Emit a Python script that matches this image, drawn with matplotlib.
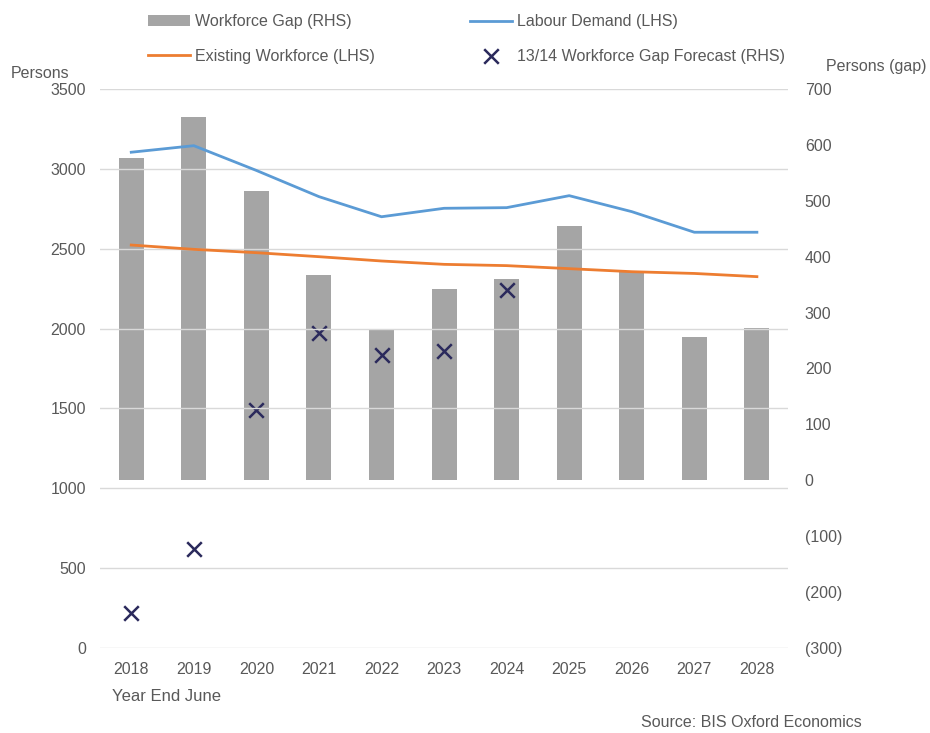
import numpy as np
import matplotlib.pyplot as plt
from matplotlib.ticker import FuncFormatter

years = ["2018", "2019", "2020", "2021", "2022", "2023", "2024", "2025", "2026", "2027", "2028"]
workforce_gap = [577, 649, 517, 367, 271, 342, 360, 454, 373, 257, 272]
labour_demand = [3104, 3145, 2990, 2826, 2700, 2753, 2757, 2832, 2732, 2603, 2603]
existing_workforce = [2523, 2496, 2475, 2450, 2423, 2402, 2394, 2375, 2356, 2345, 2325]
forecast_years = ["2018", "2019", "2020", "2021", "2022", "2023", "2024"]
forecast_gap = [-237, -123, 126, 263, 224, 232, 340]

plt.rcParams['font.family'] = ['Liberation Sans', 'DejaVu Sans']
text_col = '#595959'

x = np.arange(len(years))
fx = np.array([years.index(y) for y in forecast_years])

fig = plt.figure(figsize=(9.3, 7.33), dpi=100)
ax = fig.add_axes([0.1075, 0.116, 0.74, 0.7626])
ax2 = ax.twinx()

# bars + markers on right axis, lines on left axis (drawn on top)
bars = ax2.bar(x, workforce_gap, width=0.4, color='#a5a5a5', label='Workforce Gap (RHS)')
mk = ax2.scatter(fx, forecast_gap, marker='x', s=110, color='#2b2a5c', linewidths=1.8,
                 label='13/14 Workforce Gap Forecast (RHS)', zorder=5)
l1, = ax.plot(x, labour_demand, color='#5b9bd5', lw=2.0, label='Labour Demand (LHS)')
l2, = ax.plot(x, existing_workforce, color='#ed7d31', lw=2.0, label='Existing Workforce (LHS)')

ax.set_zorder(ax2.get_zorder() + 1)
ax.patch.set_visible(False)

ax.set_xlim(-0.5, len(years) - 0.5)
ax.set_ylim(0, 3500)
ax.set_yticks(np.arange(0, 3501, 500))
ax2.set_ylim(-300, 700)
ax2.set_yticks(np.arange(-300, 701, 100))
ax2.yaxis.set_major_formatter(FuncFormatter(lambda v, p: f"({abs(int(v))})" if v < 0 else f"{int(v)}"))
ax.set_xticks(x)
ax.set_xticklabels(years)

ax.grid(axis='y', color='#d9d9d9', lw=1)
ax.set_axisbelow(True)
for a in (ax, ax2):
    for s in a.spines.values():
        s.set_visible(False)
    a.tick_params(length=0, labelsize=11.5, colors=text_col)
ax.tick_params(axis='y', pad=10)
ax.tick_params(axis='x', pad=10)
ax2.tick_params(axis='y', pad=12)

fig.text(0.012, 0.893, "Persons", fontsize=11.5, color=text_col)
fig.text(0.888, 0.903, "Persons (gap)", fontsize=11.5, color=text_col)
fig.text(0.12, 0.043, "Year End June", fontsize=12, color=text_col)
fig.text(0.927, 0.008, "Source: BIS Oxford Economics", fontsize=11.5, color=text_col, ha='right')

fig.legend([bars, l2, l1, mk],
           ['Workforce Gap (RHS)', 'Existing Workforce (LHS)', 'Labour Demand (LHS)',
            '13/14 Workforce Gap Forecast (RHS)'],
           ncol=2, frameon=False, loc='upper left', bbox_to_anchor=(0.144, 1.0),
           fontsize=11.5, labelcolor=text_col, columnspacing=6, handlelength=2.6,
           handletextpad=0.3, labelspacing=1.2)

fig.savefig("out.png", dpi=100)
